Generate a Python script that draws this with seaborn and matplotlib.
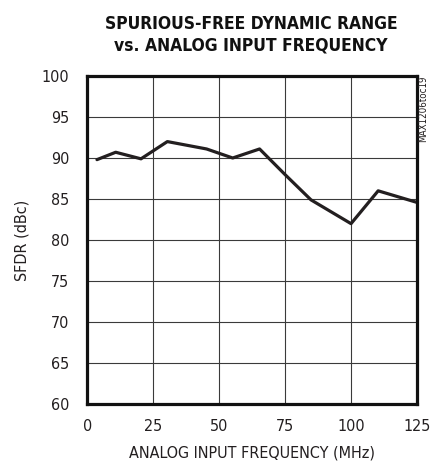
import numpy as np
import pandas as pd
import matplotlib
matplotlib.use('Agg')
import matplotlib.pyplot as plt
import seaborn as sns

# values
freq_mhz = [3.7, 10.8, 20.4, 30.4, 45.3, 55.2, 65.4, 75.0, 84.9, 100.1, 110.4, 125.0]
sfdr_dbc = [89.8, 90.7, 89.9, 92.0, 91.1, 90.0, 91.1, 88.0, 84.9, 82.0, 86.0, 84.6]
x_ticks = [0, 25, 50, 75, 100, 125]
y_ticks = [60, 65, 70, 75, 80, 85, 90, 95, 100]

df = pd.DataFrame({'freq': freq_mhz, 'sfdr': sfdr_dbc})

sns.set_style('white')
plt.rcParams['font.family'] = ['DejaVu Sans']
plt.rcParams['font.stretch'] = 'condensed'

fig = plt.figure(figsize=(4.34, 4.63), dpi=100)
ax = fig.add_axes([0.201, 0.127, 0.759, 0.709])

sns.lineplot(data=df, x='freq', y='sfdr', ax=ax, color='#231f20', linewidth=2.3)

ax.set_xlim(0, 125)
ax.set_ylim(60, 100)
ax.set_xticks(x_ticks)
ax.set_yticks(y_ticks)
ax.grid(True, color='#3a3a3a', linewidth=0.8)
ax.tick_params(length=0, labelsize=11.5, colors='#231f20')
ax.tick_params(axis='y', pad=13)
ax.tick_params(axis='x', pad=11)
for s in ax.spines.values():
    s.set_visible(True)
    s.set_color('#111111')
    s.set_linewidth(2.3)

ax.set_xlabel('ANALOG INPUT FREQUENCY (MHz)', fontsize=11.5, color='#231f20', labelpad=8)
ax.set_ylabel('SFDR (dBc)', fontsize=11.5, color='#231f20', labelpad=9)

fig.text(0.578, 0.925, 'SPURIOUS-FREE DYNAMIC RANGE\nvs. ANALOG INPUT FREQUENCY',
         ha='center', va='center', fontsize=12.5, fontweight='bold',
         linespacing=1.2, color='#111111')
fig.text(0.976, 0.838, 'MAX1206toc19', rotation=90, ha='center', va='top',
         fontsize=7, color='#231f20')

fig.savefig('out.png', dpi=100)
